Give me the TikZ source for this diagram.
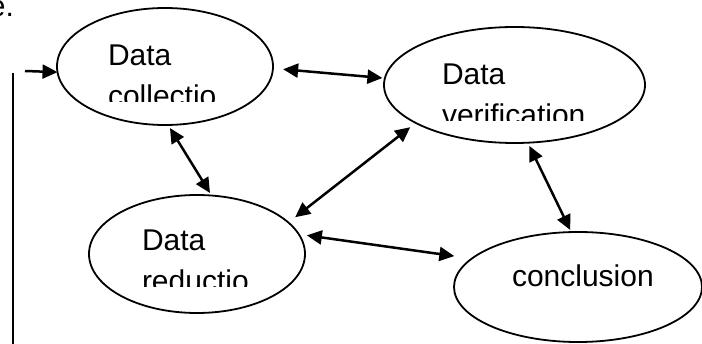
\documentclass[tikz,border=0pt]{standalone}
\usepackage{fontspec}
\setmainfont{Liberation Sans}
\usetikzlibrary{arrows.meta,shapes.geometric}
\begin{document}
\begin{tikzpicture}[x=1pt,y=-1pt,
 ell/.style={draw, line width=1.8pt, ellipse, inner sep=0pt, outer sep=0pt},
 lbl/.style={anchor=base west, inner sep=0pt, outer sep=0pt, font=\fontsize{30}{36}\selectfont},
 tipA/.tip={Triangle[length=15pt,width=14pt]},
 biarrow/.style={line width=2.5pt, tipA-tipA},
 onearrow/.style={line width=2.5pt, -tipA},
 plainline/.style={line width=2pt},
]
\useasboundingbox (0,0) rectangle (702,344);
% ellipses
\node[ell, minimum width=216pt, minimum height=117pt] (C) at (165,66.5) {};
\node[ell, minimum width=261pt, minimum height=116pt] (V) at (514.5,85) {};
\node[ell, minimum width=216pt, minimum height=118pt] (R) at (197,254) {};
\node[ell, minimum width=248pt, minimum height=110pt] (K) at (578,287) {};
% texts
\node[lbl, anchor=base east] (e) at (14,17) {e.};
\begin{scope}
\clip (60,0) rectangle (290,102);
\node[lbl] (Ct1) at (108,66) {Data};
\node[lbl] (Ct2) at (108,107) {collectio};
\end{scope}
\begin{scope}
\clip (390,0) rectangle (650,121);
\node[lbl] (Vt1) at (442,85) {Data};
\node[lbl] (Vt2) at (442,126) {verification};
\end{scope}
\begin{scope}
\clip (90,200) rectangle (310,287);
\node[lbl] (Rt1) at (142,251) {Data};
\node[lbl] (Rt2) at (142,292) {reductio};
\end{scope}
\node[lbl] (Kt) at (512,287) {conclusion};
% connectors
\draw[biarrow, shorten <=10.2pt, shorten >=2.5pt] (C.-1.9) -- (V.177.9);
\draw[biarrow, shorten <=3.6pt, shorten >=3pt] (C.-87) -- (R.76);
\draw[biarrow, shorten <=8.6pt, shorten >=7pt] (R.19.2) -- (V.-159.2);
\draw[biarrow, shorten <=8.2pt, shorten >=17.7pt] (R.11.9) -- (K.165.7);
\draw[biarrow, shorten <=3.7pt, shorten >=2.3pt] (V.-77.4) -- (K.97.3);
% feedback line
\coordinate (fb) at (25,71);
\draw[onearrow] (fb) -- (C.-177.6);
\coordinate (lt) at (13,73);
\coordinate (lb) at (13,344);
\draw[plainline] (lt) -- (lb);
\end{tikzpicture}
\end{document}
